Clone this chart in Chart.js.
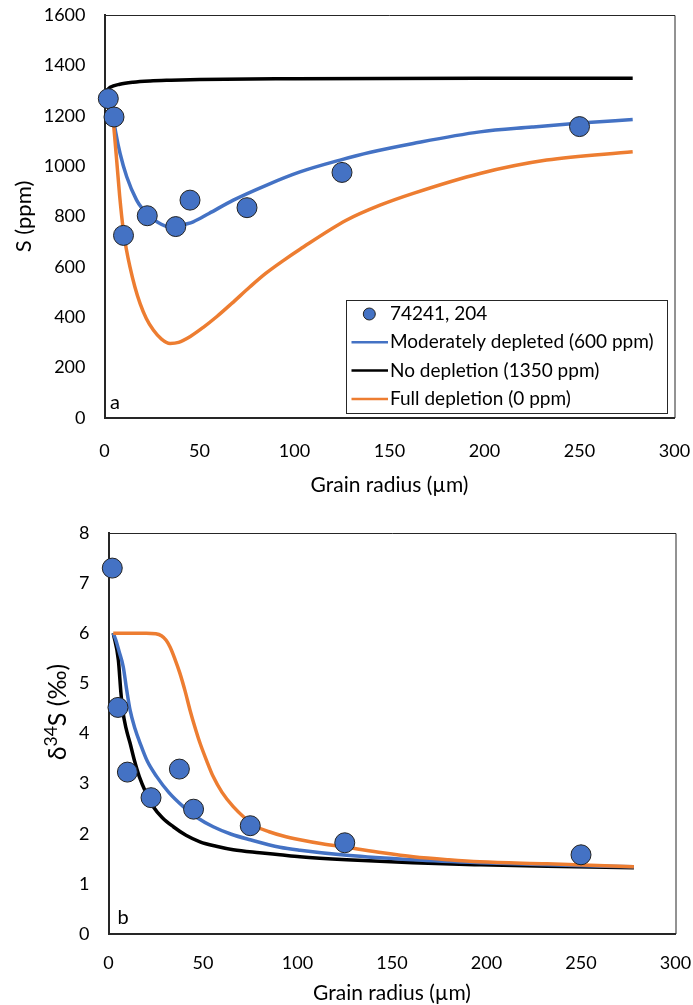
<!DOCTYPE html>
<html>
<head>
<meta charset="utf-8">
<script src="https://cdn.jsdelivr.net/npm/chart.js@4.4.1/dist/chart.umd.min.js"></script>
<style>
  html, body { margin: 0; padding: 0; background: #fff; }
  #wrap { position: relative; width: 693px; height: 1005px; }
  .panel { position: absolute; left: 0; width: 693px; }
</style>
</head>
<body>
<div id="wrap">
  <div class="panel" style="top:0;height:505px"><canvas id="chartS"></canvas></div>
  <div class="panel" style="top:505px;height:500px"><canvas id="chartD"></canvas></div>
</div>
<script>
// measured grains (74241, 204)
const radius = [2, 5, 10, 22.5, 37.5, 45, 75, 125, 250];
const sPpm = [1268, 1195, 725, 803, 760, 865, 835, 975, 1157];
const d34S = [7.3, 4.52, 3.23, 2.72, 3.29, 2.49, 2.16, 1.82, 1.58];

// model curves, panel a (S ppm)
const sModX = [4.6, 6, 8.2, 11.7, 16.9, 20, 24, 28, 31.8, 35, 38, 42, 46.7, 55, 67.8, 85.4, 102.9, 124, 140, 162.5, 197.6, 225, 250.3, 278];
const sModY = [1196, 1130, 1050, 958, 865, 830, 799, 777, 763, 757, 759, 768, 779, 812, 865, 925, 977, 1024, 1055, 1090, 1136, 1155, 1171, 1185];
const sNoDepX = [1, 3, 8, 15, 24, 35, 50, 100, 200, 278];
const sNoDepY = [1300, 1313, 1325, 1333, 1338, 1341, 1344, 1347, 1349, 1349];
const sFullX = [4.6, 6.4, 8, 9.9, 11.5, 13.4, 16, 18.7, 22, 25.7, 30, 34.5, 39, 45, 52, 59, 67, 76.6, 85, 94.1, 102.9, 127.5, 145, 162.5, 197.6, 232.7, 278];
const sFullY = [1183, 1024, 880, 746, 670, 600, 520, 455, 395, 349, 313, 296, 300, 323, 360, 402, 455, 521, 575, 625, 670, 786, 845, 892, 971, 1024, 1057];

// model curves, panel b (d34S)
const dModX = [2.5, 4, 5.5, 7.8, 9.5, 11.4, 14, 16.7, 20.5, 25.5, 32, 39.6, 47, 55.4, 65, 74.9, 90.7, 101.3, 126, 161, 197, 232, 278];
const dModY = [6.0, 5.85, 5.65, 5.33, 4.9, 4.47, 4.1, 3.81, 3.45, 3.14, 2.82, 2.54, 2.32, 2.14, 1.99, 1.88, 1.73, 1.67, 1.57, 1.48, 1.42, 1.38, 1.34];
const dNoDepX = [2.5, 5.2, 6.6, 7.5, 9.3, 11.4, 13.8, 16.3, 19.8, 23.7, 28.5, 34.3, 41, 48.4, 57, 66, 80, 90.7, 101.3, 126, 161, 197, 232, 278];
const dNoDepY = [6.0, 5.47, 4.8, 4.47, 4.1, 3.81, 3.45, 3.14, 2.82, 2.54, 2.32, 2.14, 1.97, 1.84, 1.75, 1.68, 1.62, 1.58, 1.54, 1.48, 1.42, 1.38, 1.35, 1.32];
const dFullX = [2.5, 10, 20, 25, 28, 30.5, 32.5, 35, 37.8, 40.5, 43.1, 45.7, 48.4, 52, 55.4, 60, 66, 72, 78.4, 85, 92, 101.3, 113, 126, 145, 161.3, 180, 196.6, 232, 278];
const dFullY = [6.0, 6.0, 6.0, 5.99, 5.95, 5.86, 5.73, 5.5, 5.2, 4.85, 4.47, 4.13, 3.81, 3.45, 3.14, 2.83, 2.54, 2.32, 2.14, 2.04, 1.96, 1.88, 1.8, 1.73, 1.62, 1.54, 1.48, 1.44, 1.4, 1.34];

const labels = ['74241, 204', 'Moderately depleted (600 ppm)', 'No depletion (1350 ppm)', 'Full depletion (0 ppm)'];

const BLUE = '#4472C4', ORANGE = '#ED7D31', BLACK = '#000000';
const FONT = 'Lato, "Noto Sans", sans-serif';

function zip(xs, ys) {
  return xs.map((x, i) => ({ x: x, y: ys[i] }));
}

function drawRich(ctx, parts, cx, cy, size) {
  // parts: [{t, sup}] drawn centred on cx,cy
  let w = 0;
  parts.forEach(p => {
    ctx.font = (p.sup ? size * 0.7 : size) + 'px ' + FONT;
    p.w = ctx.measureText(p.t).width;
    w += p.w;
  });
  let x = cx - w / 2;
  ctx.textAlign = 'left';
  ctx.textBaseline = 'middle';
  parts.forEach(p => {
    ctx.font = (p.sup ? size * 0.7 : size) + 'px ' + FONT;
    ctx.fillText(p.t, x, p.sup ? cy - size * 0.28 : cy);
    x += p.w;
  });
}

const decor = {
  id: 'decor',
  beforeDatasetsDraw(chart, args, o) {
    const { ctx, chartArea: a } = chart;
    ctx.save();
    ctx.strokeStyle = '#262626';
    ctx.lineWidth = 1;
    ctx.beginPath();
    ctx.moveTo(a.left, a.top + 0.5);
    ctx.lineTo(a.right + 0.5, a.top + 0.5);
    ctx.lineTo(a.right + 0.5, a.bottom);
    ctx.stroke();
    ctx.restore();
  },
  afterDraw(chart, args, o) {
    const { ctx, chartArea: a } = chart;
    ctx.save();
    ctx.fillStyle = '#000';
    drawRich(ctx, [{ t: o.xTitle }], (a.left + a.right) / 2, o.xTitleY, o.titleSize);
    ctx.save();
    ctx.translate(o.yTitleX, o.yTitleY);
    ctx.rotate(-Math.PI / 2);
    drawRich(ctx, o.yTitle, 0, 0, o.yTitleSize);
    ctx.restore();

    ctx.font = '20px ' + FONT;
    ctx.textAlign = 'center';
    ctx.textBaseline = 'middle';
    ctx.fillText(o.letter, o.letterX, o.letterY);

    if (o.legend) {
      const L = o.legend;
      ctx.strokeStyle = '#262626';
      ctx.lineWidth = 1;
      ctx.fillStyle = '#fff';
      ctx.fillRect(L.x, L.y, L.w, L.h);
      ctx.strokeRect(L.x + 0.5, L.y + 0.5, L.w, L.h);
      ctx.font = '19px ' + FONT;
      ctx.textAlign = 'left';
      ctx.textBaseline = 'middle';
      chart.data.datasets.forEach((ds, i) => {
        const cy = L.y + 14 + i * 28.3;
        if (ds.showLine) {
          ctx.strokeStyle = ds.borderColor;
          ctx.lineWidth = 2.5;
          ctx.beginPath();
          ctx.moveTo(L.x + 5.5, cy);
          ctx.lineTo(L.x + 42, cy);
          ctx.stroke();
        } else {
          ctx.fillStyle = ds.backgroundColor;
          ctx.strokeStyle = '#222';
          ctx.lineWidth = 1;
          ctx.beginPath();
          ctx.arc(L.x + 23.3, cy, 6, 0, Math.PI * 2);
          ctx.fill();
          ctx.stroke();
        }
        ctx.fillStyle = '#000';
        ctx.fillText(ds.label, L.x + 44, cy);
      });
    }
    ctx.restore();
  }
};

function pointSet(ys) {
  return {
    label: labels[0], data: zip(radius, ys), showLine: false, order: 0,
    backgroundColor: BLUE, borderColor: '#222', borderWidth: 1,
    pointRadius: 10, pointHoverRadius: 10, clip: false
  };
}

function lineSet(label, color, xs, ys, order) {
  return {
    label: label, data: zip(xs, ys), showLine: true, order: order,
    borderColor: color, backgroundColor: color, borderWidth: 3.5,
    pointRadius: 0, cubicInterpolationMode: 'monotone', fill: false
  };
}

function axes(yMax, yStep, yWidth, xHeight, xPad) {
  const tickFont = { family: FONT, size: 18 };
  const plain = v => String(v);
  return {
    x: {
      type: 'linear', min: 0, max: 300,
      ticks: { stepSize: 50, padding: xPad, color: '#000', font: tickFont, maxRotation: 0, callback: plain },
      grid: { display: false, drawTicks: false },
      border: { display: true, color: '#262626', width: 2 },
      afterFit: s => { s.height = xHeight; s.paddingLeft = 0; s.paddingRight = 0; }
    },
    y: {
      type: 'linear', min: 0, max: yMax,
      ticks: { stepSize: yStep, padding: 19, color: '#000', font: tickFont, callback: plain },
      grid: { display: false, drawTicks: false },
      border: { display: true, color: '#262626', width: 2 },
      afterFit: s => { s.width = yWidth; s.paddingTop = 0; s.paddingBottom = 0; }
    }
  };
}

new Chart(document.getElementById('chartS'), {
  type: 'scatter',
  data: {
    datasets: [
      pointSet(sPpm),
      lineSet(labels[1], BLUE, sModX, sModY, 2),
      lineSet(labels[2], BLACK, sNoDepX, sNoDepY, 3),
      lineSet(labels[3], ORANGE, sFullX, sFullY, 1)
    ]
  },
  options: {
    responsive: true, maintainAspectRatio: false, animation: false,
    layout: { padding: { left: 0, right: 18.5, top: 15, bottom: 0 } },
    scales: axes(1600, 200, 104.5, 87, 22),
    plugins: {
      legend: { display: false }, tooltip: { enabled: false },
      decor: {
        xTitle: 'Grain radius (µm)', xTitleY: 485, titleSize: 21,
        yTitle: [{ t: 'S (ppm)' }], yTitleX: 24, yTitleY: 216.5, yTitleSize: 22,
        letter: 'a', letterX: 115, letterY: 403,
        legend: { x: 346, y: 300, w: 321, h: 113 }
      }
    }
  },
  plugins: [decor]
});

new Chart(document.getElementById('chartD'), {
  type: 'scatter',
  data: {
    datasets: [
      pointSet(d34S),
      lineSet(labels[1], BLUE, dModX, dModY, 2),
      lineSet(labels[2], BLACK, dNoDepX, dNoDepY, 3),
      lineSet(labels[3], ORANGE, dFullX, dFullY, 1)
    ]
  },
  options: {
    responsive: true, maintainAspectRatio: false, animation: false,
    layout: { padding: { left: 0, right: 17.5, top: 28, bottom: 0 } },
    scales: axes(8, 1, 108.5, 71, 18),
    plugins: {
      legend: { display: false }, tooltip: { enabled: false },
      decor: {
        xTitle: 'Grain radius (µm)', xTitleY: 488, titleSize: 21,
        yTitle: [{ t: 'δ' }, { t: '34', sup: true }, { t: 'S (‰)' }], yTitleX: 58, yTitleY: 207, yTitleSize: 25,
        letter: 'b', letterX: 123, letterY: 413,
        legend: null
      }
    }
  },
  plugins: [decor]
});
</script>
</body>
</html>
